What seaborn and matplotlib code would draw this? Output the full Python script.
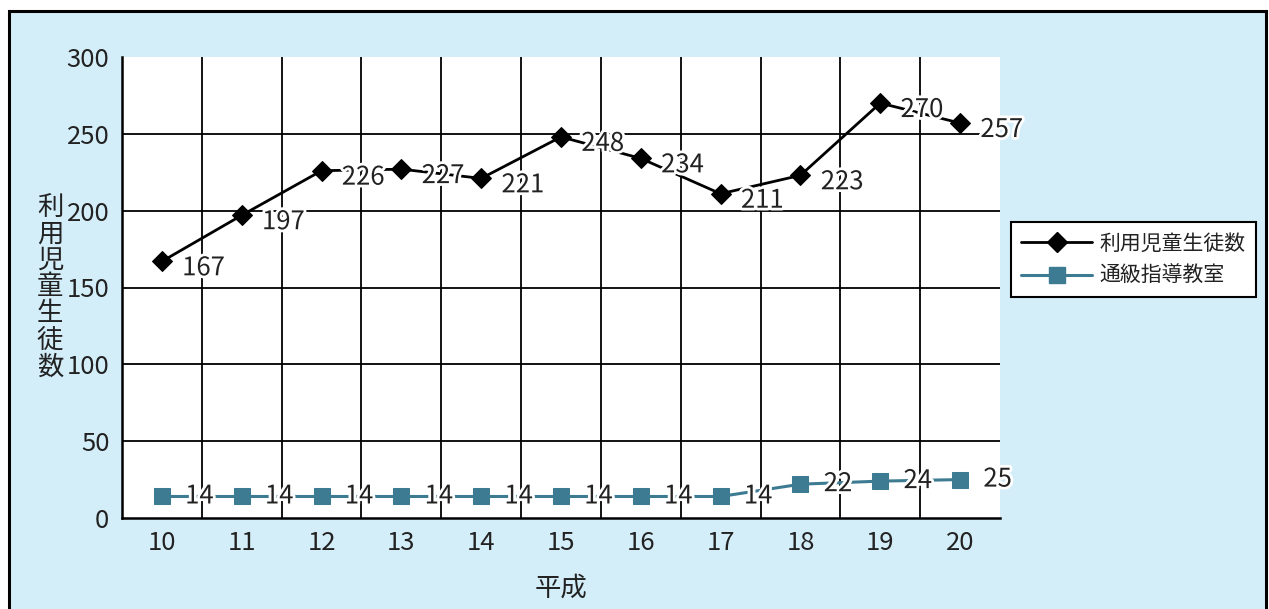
import matplotlib
matplotlib.use("Agg")
import matplotlib.pyplot as plt
import matplotlib.patheffects as pe
from matplotlib.patches import Rectangle
from matplotlib.lines import Line2D
import numpy as np
import pandas as pd
import seaborn as sns

# Data
years = [10, 11, 12, 13, 14, 15, 16, 17, 18, 19, 20]
students = [167, 197, 226, 227, 221, 248, 234, 211, 223, 270, 257]
classrooms = [14, 14, 14, 14, 14, 14, 14, 14, 22, 24, 25]
series_students = "利用児童生徒数"
series_classrooms = "通級指導教室"
x_title = "平成"
y_title = "利用児童生徒数"

sns.set_theme(style="white")
plt.rcParams["font.family"] = ["Noto Sans CJK JP", "DejaVu Sans"]
cjk = ["Noto Sans CJK JP", "DejaVu Sans"]

BG = "#d4eef9"
TEAL = "#3d7b93"
TXT = "#222222"

fig = plt.figure(figsize=(12.69, 6.09), dpi=100, facecolor="white")
fig.patches.append(Rectangle((9 / 1269, -0.02), (1266 - 9) / 1269, 1.02 - 11 / 609,
                             transform=fig.transFigure, facecolor=BG, edgecolor="black",
                             linewidth=2.2, zorder=-10))

ax = fig.add_axes([122 / 1269, 1 - 518 / 609, (1000 - 122) / 1269, (518 - 57) / 609])
ax.set_facecolor("white")

df = pd.DataFrame({"year": years, series_students: students, series_classrooms: classrooms})

sns.lineplot(data=df, x="year", y=series_students, ax=ax, color="black", linewidth=2,
             marker="D", markersize=10.5, markeredgecolor="black", zorder=4)
sns.lineplot(data=df, x="year", y=series_classrooms, ax=ax, color=TEAL, linewidth=2.2,
             marker="s", markersize=12, markeredgecolor=TEAL, zorder=4)

ax.set_xlim(9.5, 20.5)
ax.set_ylim(0, 300)
ax.set_xticks(years)
ax.set_yticks(np.arange(0, 301, 50))
ax.set_xticklabels([str(y) for y in years])
ax.tick_params(axis="both", which="both", length=0, labelsize=18.5, colors=TXT)
ax.tick_params(axis="x", pad=9)
ax.tick_params(axis="y", pad=9)

ax.grid(False)
for v in range(50, 300, 50):
    ax.axhline(v, color="black", linewidth=1.3, zorder=1)
for b in np.arange(10.5, 20.5, 1):
    ax.axvline(b, color="black", linewidth=1.3, zorder=1)

for s in ["top", "right"]:
    ax.spines[s].set_visible(False)
for s in ["left", "bottom"]:
    ax.spines[s].set_color("black")
    ax.spines[s].set_linewidth(1.8)

halo = [pe.withStroke(linewidth=4, foreground="white")]
for x, v in zip(years, students):
    ax.annotate(str(v), (x, v), xytext=(30, -5), textcoords="offset points",
                ha="center", va="center", fontsize=18.5, color=TXT, path_effects=halo, zorder=5)
for x, v in zip(years, classrooms):
    ax.annotate(str(v), (x, v), xytext=(27, 0), textcoords="offset points",
                ha="center", va="center", fontsize=18.5, color=TXT, path_effects=halo, zorder=5)

ax.set_xlabel(x_title, fontsize=19, family=cjk, color=TXT, labelpad=13)
ax.set_ylabel("")
fig.text(50 / 1269, 1 - 287 / 609, "\n".join(y_title), family=cjk, fontsize=19,
         color=TXT, ha="center", va="center", linespacing=0.98)

handles = [
    Line2D([], [], color="black", linewidth=2, marker="D", markersize=10.5),
    Line2D([], [], color=TEAL, linewidth=2.2, marker="s", markersize=12),
]
leg = fig.legend(handles, [series_students, series_classrooms],
                 loc="upper left", bbox_to_anchor=(1011 / 1269, 1 - 222 / 609),
                 prop={"family": cjk, "size": 15}, frameon=True, fancybox=False,
                 edgecolor="black", facecolor="white", framealpha=1,
                 handlelength=3.4, handletextpad=0.35, borderpad=0.5, labelspacing=0.5,
                 borderaxespad=0)
leg.get_frame().set_linewidth(1.5)
for t in leg.get_texts():
    t.set_color(TXT)

fig.savefig("out.png", dpi=100, facecolor=fig.get_facecolor())
